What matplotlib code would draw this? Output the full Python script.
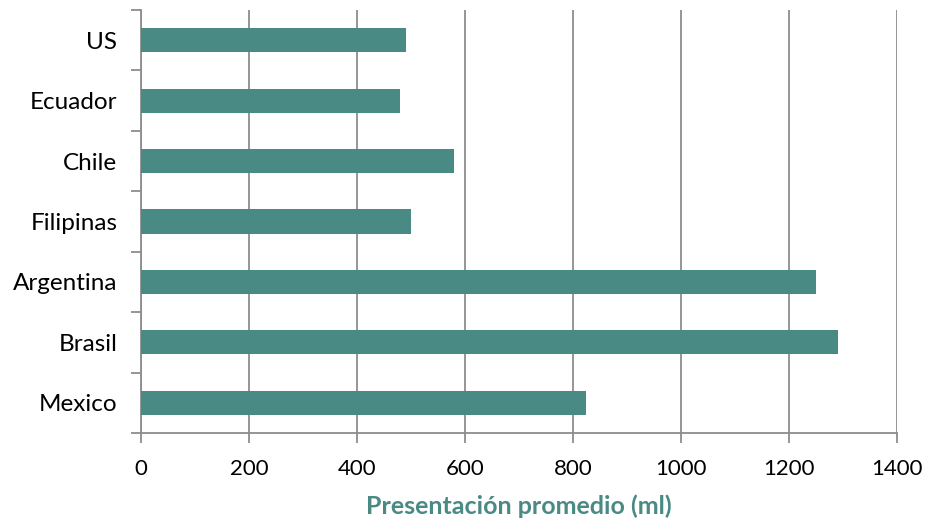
import numpy as np
import matplotlib.pyplot as plt
from matplotlib.ticker import FixedLocator

# data (bottom to top)
countries = ["Mexico", "Brasil", "Argentina", "Filipinas", "Chile", "Ecuador", "US"]
presentacion_ml = [825, 1290, 1250, 500, 580, 480, 490]
x_ticks = [0, 200, 400, 600, 800, 1000, 1200, 1400]

teal = "#4A8A84"
grid_grey = "#8C8C8C"

plt.rcParams['font.family'] = ['Lato', 'DejaVu Sans']

fig = plt.figure(figsize=(9.25, 5.25), dpi=100)
ax = fig.add_axes([0.1524, 0.1752, 0.8173, 0.8058])

ypos = np.arange(len(countries))
ax.barh(ypos, presentacion_ml, height=0.4, color=teal, zorder=3)

ax.set_xlim(0, 1400)
ax.set_ylim(-0.5, len(countries) - 0.5)
ax.set_xticks(x_ticks)
ax.set_xticklabels([str(t) for t in x_ticks], fontsize=16)

# category labels at centres, tick marks between categories
ax.set_yticks(ypos)
ax.set_yticklabels(countries, fontsize=17.5)
ax.tick_params(axis='y', which='major', length=0, pad=17)
ax.yaxis.set_minor_locator(FixedLocator(np.arange(-0.5, len(countries), 1.0)))
ax.tick_params(axis='y', which='minor', length=7, width=1.3, color=grid_grey)
ax.tick_params(axis='x', length=7, width=1.3, color=grid_grey, pad=12)

ax.grid(axis='x', color=grid_grey, linewidth=1.3, zorder=0)
for side in ['top', 'right']:
    ax.spines[side].set_visible(False)
for side in ['left', 'bottom']:
    ax.spines[side].set_color(grid_grey)
    ax.spines[side].set_linewidth(1.3)

ax.set_xlabel("Presentación promedio (ml)", fontsize=18, fontweight='bold',
              color=teal, labelpad=11)

fig.savefig("out.png", dpi=100)
